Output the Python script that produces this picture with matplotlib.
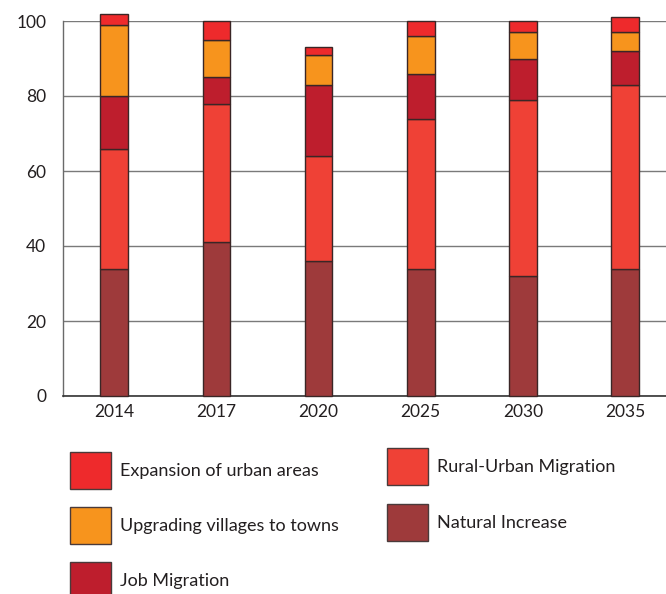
import matplotlib
matplotlib.use("Agg")
import matplotlib.pyplot as plt
from matplotlib.patches import Rectangle
import numpy as np

plt.rcParams['font.family'] = ['Lato', 'DejaVu Sans']

years = ["2014", "2017", "2020", "2025", "2030", "2035"]
natural_increase = [34, 41, 36, 34, 32, 34]
rural_urban = [32, 37, 28, 40, 47, 49]
job_migration = [14, 7, 19, 12, 11, 9]
upgrading_villages = [19, 10, 8, 10, 7, 5]
expansion_urban = [3, 5, 2, 4, 3, 4]

series = [
    ("Natural Increase", natural_increase, "#9E3A3B"),
    ("Rural-Urban Migration", rural_urban, "#EF4136"),
    ("Job Migration", job_migration, "#BE1E2D"),
    ("Upgrading villages to towns", upgrading_villages, "#F7941D"),
    ("Expansion of urban areas", expansion_urban, "#EE2A2C"),
]

W, H = 666, 594
fig = plt.figure(figsize=(W / 100, H / 100), dpi=100)
ax = fig.add_axes([63 / W, 1 - 396 / H, (W - 63) / W, (396 - 21) / H])

x = np.arange(len(years))
bottom = np.zeros(len(years))
for name, vals, color in series:
    vals = np.array(vals, dtype=float)
    ax.bar(x, vals, width=0.27, bottom=bottom, color=color,
           edgecolor="#3a2626", linewidth=1.0, clip_on=False, zorder=3)
    bottom += vals

ax.set_ylim(0, 100)
ax.set_xlim(-0.5, 5.4)
ax.set_yticks([0, 20, 40, 60, 80, 100])
ax.set_xticks(x)
ax.set_xticklabels(years)
ax.tick_params(axis="both", length=0, labelsize=12.5, colors="#231f20")
ax.tick_params(axis="y", pad=12)
ax.tick_params(axis="x", pad=6)
ax.yaxis.grid(True, color="#7a7a7a", linewidth=1.0, zorder=0)
ax.set_axisbelow(True)
for s in ["top", "right"]:
    ax.spines[s].set_visible(False)
ax.spines["left"].set_color("#6a6a6a")
ax.spines["bottom"].set_color("#333333")
ax.spines["left"].set_linewidth(1.0)
ax.spines["bottom"].set_linewidth(1.2)

# legend drawn in figure pixel coordinates: (label, colour, left x, centre y)
legend_items = [
    ("Expansion of urban areas", "#EE2A2C", 70, 470),
    ("Upgrading villages to towns", "#F7941D", 70, 525),
    ("Job Migration", "#BE1E2D", 70, 580),
    ("Rural-Urban Migration", "#EF4136", 387, 466),
    ("Natural Increase", "#9E3A3B", 387, 522),
]
pw, ph = 41, 37
for label, color, px, cy in legend_items:
    rect = Rectangle((px / W, 1 - (cy + ph / 2) / H), pw / W, ph / H,
                     facecolor=color, edgecolor="#4a3a3a", linewidth=1.0,
                     transform=fig.transFigure)
    fig.add_artist(rect)
    fig.text((px + pw + 9) / W, 1 - (cy + 1) / H, label, fontsize=13,
             va="center", ha="left", color="#231f20")

fig.savefig("out.png", dpi=100)
